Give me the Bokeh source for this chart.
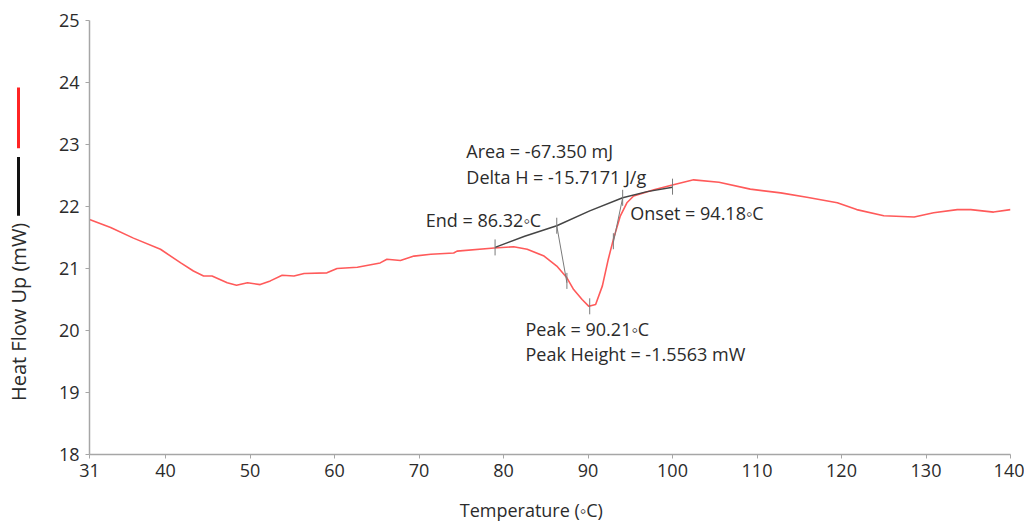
import math
from bokeh.plotting import figure
from bokeh.layouts import row
from bokeh.models import FixedTicker, Range1d
from bokeh.core.properties import value
from bokeh.embed import file_html
from bokeh.resources import INLINE

# ---- data ----
temperature = [31, 33.5, 36.2, 39.4, 41.8, 43.3, 44.5, 45.5, 47.3, 48.4, 49.7, 51.2, 52.4, 53.8,
               55.2, 56.4, 59.1, 60.3, 62.7, 65.4, 66.2, 67.8, 69.4, 71.4, 74.1, 74.5, 78.9,
               81.2, 82.8, 84.8, 86.3, 87.5, 88.3, 89.3, 90.1, 90.9, 91.7, 92.4, 93.0, 93.8,
               94.6, 95.4, 97.8, 100.1, 102.5, 105.5, 109.2, 112.8, 115.9, 119.5, 121.8,
               125.0, 128.6, 130.9, 133.7, 135.3, 138.0, 140]
heat_flow = [21.79, 21.66, 21.49, 21.31, 21.09, 20.96, 20.88, 20.88, 20.77, 20.73, 20.77, 20.74,
             20.80, 20.89, 20.88, 20.92, 20.93, 21.00, 21.02, 21.09, 21.15, 21.13, 21.20, 21.23,
             21.25, 21.28, 21.33, 21.35, 21.31, 21.20, 21.04, 20.85, 20.66, 20.50, 20.39, 20.42,
             20.72, 21.15, 21.47, 21.84, 22.06, 22.17, 22.27, 22.35, 22.43, 22.39, 22.28, 22.22,
             22.15, 22.06, 21.95, 21.85, 21.83, 21.90, 21.95, 21.95, 21.91, 21.95]

baseline_t = [79.0, 82.5, 86.3, 90.2, 94.1, 97.0, 100.0]
baseline_hf = [21.34, 21.52, 21.69, 21.93, 22.14, 22.24, 22.31]

marker_t = [79.0, 86.3, 87.5, 90.2, 93.0, 94.1, 100.0]
marker_hf = [21.34, 21.69, 20.80, 20.39, 21.44, 22.14, 22.32]

end_line_t = [86.3, 87.5]
end_line_hf = [21.69, 20.77]
onset_line_t = [94.1, 93.0]
onset_line_hf = [22.14, 21.42]

x_ticks = [31, 40, 50, 60, 70, 80, 90, 100, 110, 120, 130, 140]
y_ticks = [18, 19, 20, 21, 22, 23, 24, 25]

ann_text = ["Area = -67.350 mJ", "Delta H = -15.7171 J/g", "End = 86.32\u25e6C",
            "Onset = 94.18\u25e6C", "Peak = 90.21\u25e6C", "Peak Height = -1.5563 mW"]
ann_x = [75.6, 75.6, 70.8, 95.0, 82.6, 82.6]
ann_y = [22.90, 22.48, 21.79, 21.90, 20.02, 19.62]

# legend strokes shown beside the y title (series colour keys)
legend_colors = ["#ff2424", "#111111"]
legend_top = [23.92, 22.80]
legend_bottom = [22.94, 21.85]

FONT = "Open Sans"
TXT = "#2b2b2b"
Y_RANGE = Range1d(18, 25)
H = 524
BOTTOM = 68

# ---- left strip: y title and colour keys ----
side = figure(width=40, height=H, output_backend="svg", toolbar_location=None,
              x_range=Range1d(0, 40), y_range=Y_RANGE, x_axis_type=None, y_axis_type=None,
              min_border_left=0, min_border_right=0, min_border_top=20, min_border_bottom=BOTTOM)
side.grid.visible = False
side.outline_line_color = None
side.segment(x0=[18, 18], y0=legend_top, x1=[18, 18], y1=legend_bottom,
             line_color=legend_colors, line_width=3)
side.text(x=[18], y=[20.30], text=["Heat Flow Up (mW)"], angle=math.pi / 2,
          text_align="center", text_baseline="middle", text_font=value(FONT),
          text_font_size="20px", text_color=TXT)

# ---- main chart ----
p = figure(width=984, height=H, output_backend="svg", toolbar_location=None,
           x_range=Range1d(31, 140), y_range=Y_RANGE,
           min_border_left=49, min_border_right=14, min_border_top=20, min_border_bottom=BOTTOM)
p.grid.visible = False
p.outline_line_color = None

for ax in (p.xaxis[0], p.yaxis[0]):
    ax.axis_line_color = "#a6a6a6"
    ax.axis_line_width = 1.5
    ax.major_tick_line_color = "#a6a6a6"
    ax.major_tick_out = 4
    ax.major_tick_in = 0
    ax.minor_tick_line_color = None
    ax.major_label_text_font = FONT
    ax.major_label_text_font_size = "18px"
    ax.major_label_text_color = TXT
p.xaxis[0].ticker = FixedTicker(ticks=x_ticks)
p.yaxis[0].ticker = FixedTicker(ticks=y_ticks)
p.xaxis[0].major_label_standoff = 5
p.yaxis[0].major_label_standoff = 6

p.xaxis[0].axis_label = "Temperature (\u25e6C)" + "\u00a0" * 8
p.xaxis[0].axis_label_text_font = FONT
p.xaxis[0].axis_label_text_font_size = "18px"
p.xaxis[0].axis_label_text_font_style = "normal"
p.xaxis[0].axis_label_text_color = TXT
p.xaxis[0].axis_label_standoff = 18

# curve
p.line(temperature, heat_flow, line_color="#ff5a5a", line_width=1.6)
# baseline
p.line(baseline_t, baseline_hf, line_color="#454545", line_width=1.5)
# tangent lines
p.line(end_line_t, end_line_hf, line_color="#7a7a7a", line_width=1)
p.line(onset_line_t, onset_line_hf, line_color="#7a7a7a", line_width=1)
# vertical tick markers
p.scatter(marker_t, marker_hf, marker="dash", angle=math.pi / 2, size=16,
          line_color="#7a7a7a", line_width=1)

p.text(x=ann_x, y=ann_y, text=ann_text, text_font=value(FONT), text_font_size="18px",
       text_color=TXT, text_baseline="middle", text_align="left")

layout = row(side, p)
open("out.html", "w").write(file_html(layout, INLINE))
